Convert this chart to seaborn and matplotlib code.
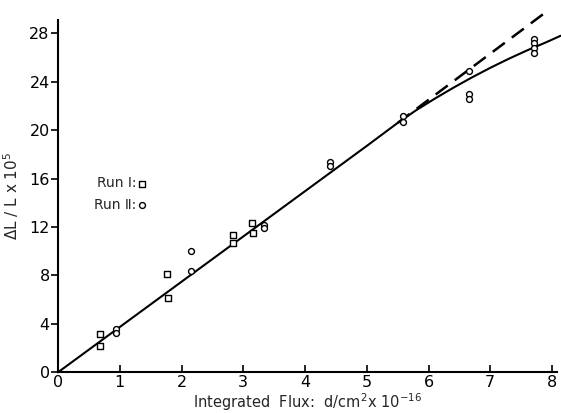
import matplotlib
matplotlib.use("Agg")
import matplotlib.pyplot as plt
import seaborn as sns
import pandas as pd

# Run I (squares)
run1_x = [0.68, 0.68, 1.77, 1.78, 2.83, 2.84, 3.14, 3.15]
run1_y = [3.2, 2.2, 8.1, 6.1, 11.3, 10.7, 12.3, 11.5]
# Run II (circles)
run2_x = [0.94, 0.94, 2.16, 2.15, 3.33, 3.33, 4.40, 4.40, 5.58, 5.58,
          6.66, 6.66, 6.66, 7.71, 7.71, 7.71, 7.71]
run2_y = [3.6, 3.25, 10.0, 8.35, 12.15, 11.9, 17.4, 17.0, 21.2, 20.7,
          23.0, 22.6, 24.9, 27.5, 27.2, 26.8, 26.4]
# drawn curve (solid) and linear extrapolation (dashed)
fit_x = [0, 5.0, 5.5, 5.8, 6.1, 6.4, 6.7, 7.0, 7.3, 7.6, 7.9, 8.14]
fit_y = [0, 18.7, 20.6, 21.65, 22.6, 23.5, 24.35, 25.15, 25.9, 26.6, 27.25, 27.8]
dash_x = [5.5, 7.86]
dash_y = [20.6, 29.6]

x_ticks = [0, 1, 2, 3, 4, 5, 6, 7, 8]
y_ticks = [0, 4, 8, 12, 16, 20, 24, 28]

sns.set_style("ticks")
plt.rcParams['font.family'] = ['DejaVu Sans']

fig = plt.figure(figsize=(5.61, 4.13), dpi=100)
ax = fig.add_axes([58/561, 1-372.3/413, (557-58)/561, (372.3-20)/413])

df1 = pd.DataFrame({"x": run1_x, "y": run1_y})
df2 = pd.DataFrame({"x": run2_x, "y": run2_y})
sns.scatterplot(data=df1, x="x", y="y", marker="s", s=16, facecolor="white",
                edgecolor="black", linewidth=1.0, ax=ax, label="Run \u2160:", zorder=3)
sns.scatterplot(data=df2, x="x", y="y", marker="o", s=18, facecolor="white",
                edgecolor="black", linewidth=1.0, ax=ax, label="Run \u2161:", zorder=3)
sns.lineplot(x=fit_x, y=fit_y, color="black", linewidth=1.5, ax=ax,
             sort=False, estimator=None, clip_on=False, zorder=2)
sns.lineplot(x=dash_x, y=dash_y, color="black", linewidth=1.8, ax=ax,
             sort=False, estimator=None, dashes=False, linestyle=(0, (6, 3.5)),
             clip_on=False, zorder=2)

ax.set_xlim(0, 8.08)
ax.set_ylim(0, 29.1)
ax.set_xticks(x_ticks)
ax.set_yticks(y_ticks)
ax.set_xticklabels([str(v) for v in x_ticks])
ax.set_yticklabels([str(v) for v in y_ticks])
sns.despine(ax=ax)
for s in ["left", "bottom"]:
    ax.spines[s].set_linewidth(1.5)
    ax.spines[s].set_color("black")
ax.tick_params(axis="x", direction="in", length=5, width=1.2, labelsize=11.5, pad=2, colors="black")
ax.tick_params(axis="y", direction="out", length=5, width=1.2, labelsize=11.5, pad=1, colors="black")

ax.set_xlabel("Integrated  Flux:  d/cm$^2$x 10$^{-16}$", fontsize=10.5)
ax.xaxis.set_label_coords(0.5, -0.053)
ax.set_ylabel("\u0394L / L x 10$^5$", fontsize=11)
ax.yaxis.set_label_coords(-0.075, 0.5)

leg = ax.legend(loc="center left", bbox_to_anchor=(0.072, 0.506), frameon=False,
                markerfirst=False, fontsize=10, handlelength=0.5, handletextpad=0.2,
                labelspacing=0.55, borderaxespad=0, borderpad=0)

fig.savefig("out.png", dpi=100, facecolor="white")
